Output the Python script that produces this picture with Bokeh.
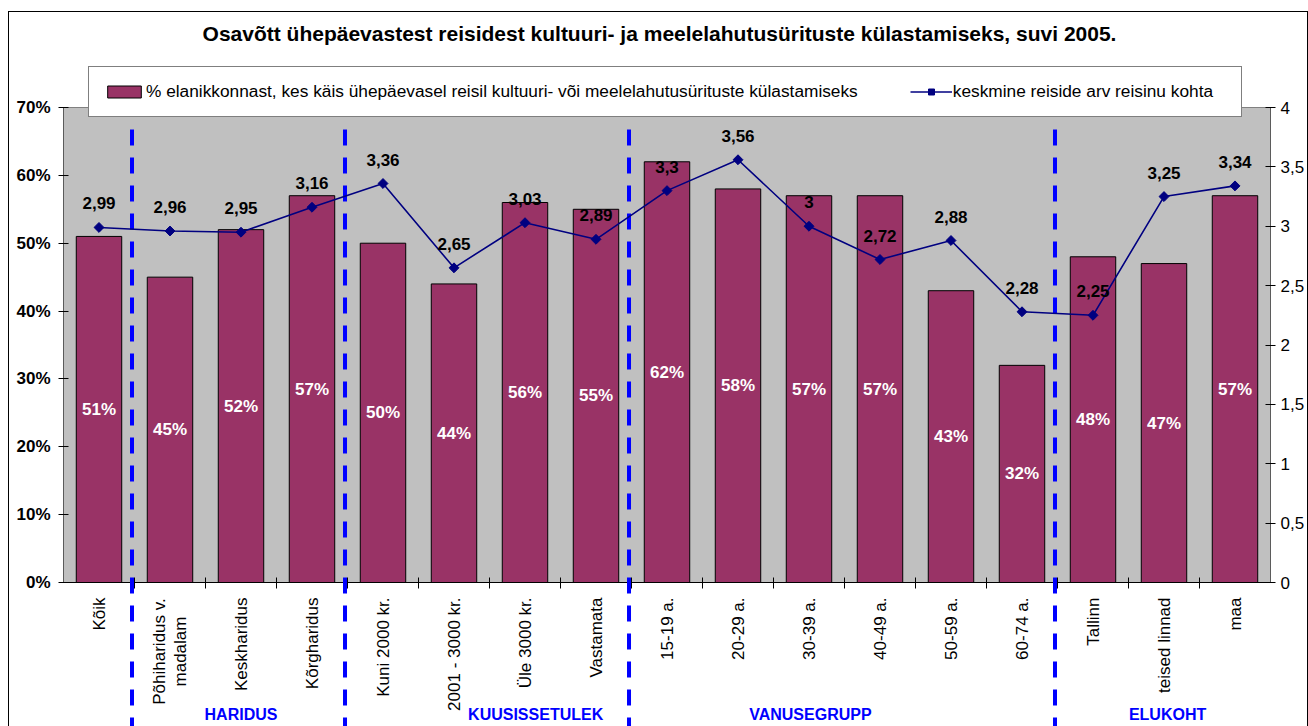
import math
from bokeh.plotting import figure
from bokeh.models import (Range1d, LinearAxis, FixedTicker, NumeralTickFormatter,
                          CustomJSTickFormatter, Legend, LegendItem)
from bokeh.core.properties import value
from bokeh.embed import file_html
from bokeh.resources import INLINE

# ---------------- data ----------------
chart_title = "Osavõtt ühepäevastest reisidest kultuuri- ja meelelahutusürituste külastamiseks, suvi 2005."
categories = ["Kõik", "Põhiharidus v.\nmadalam", "Keskharidus", "Kõrgharidus",
              "Kuni 2000 kr.", "2001 - 3000 kr.", "Üle 3000 kr.", "Vastamata",
              "15-19 a.", "20-29 a.", "30-39 a.", "40-49 a.", "50-59 a.", "60-74 a.",
              "Tallinn", "teised linnad", "maa"]
share_pct = [51, 45, 52, 57, 50, 44, 56, 55, 62, 58, 57, 57, 43, 32, 48, 47, 57]
avg_trips = [2.99, 2.96, 2.95, 3.16, 3.36, 2.65, 3.03, 2.89, 3.3, 3.56, 3, 2.72, 2.88,
             2.28, 2.25, 3.25, 3.34]
groups = ["HARIDUS", "KUUSISSETULEK", "VANUSEGRUPP", "ELUKOHT"]
group_first_index = [1, 4, 8, 14]
left_ticks = [0, 0.1, 0.2, 0.3, 0.4, 0.5, 0.6, 0.7]
right_ticks = [0, 0.5, 1, 1.5, 2, 2.5, 3, 3.5, 4]
bar_legend = "% elanikkonnast, kes käis ühepäevasel reisil kultuuri- või meelelahutusürituste külastamiseks"
line_legend = "keskmine reiside arv reisinu kohta"

# ---------------- layout helpers ----------------
FONT = "Liberation Sans"
W, H = 1308, 726
FRAME_L, FRAME_R = 63, 1270
n = len(categories)
ymax_left, ymax_right = 0.7, 4.0
PPU = 475 / ymax_left            # pixels per unit on left axis
def px(p):
    return p / PPU
y_top = ymax_left + px(107)
y_bot = -px(H - 582)
k = ymax_right / ymax_left

xs = [i + 0.5 for i in range(n)]
shares = [v / 100 for v in share_pct]
trips_left = [v / k for v in avg_trips]

# outer chart border drawn as CSS background lines behind a transparent canvas
border_css = ("linear-gradient(#000,#000) 8px 11px / 1300px 1px no-repeat, "
              "linear-gradient(#000,#000) 8px 11px / 1px 715px no-repeat, "
              "linear-gradient(#000,#000) 1307px 11px / 1px 715px no-repeat, #ffffff")

p = figure(width=W, height=H, output_backend="svg", toolbar_location=None,
           x_range=Range1d(0, n), y_range=Range1d(y_bot, y_top),
           x_axis_location=None, y_axis_location=None,
           min_border_left=FRAME_L, min_border_right=W - FRAME_R,
           min_border_top=0, min_border_bottom=0,
           styles={"background": border_css})
p.extra_y_ranges = {"right": Range1d(y_bot * k, y_top * k)}
p.xgrid.visible = False
p.ygrid.visible = False
p.outline_line_color = None
p.background_fill_alpha = 0
p.border_fill_alpha = 0

# axes
la = LinearAxis(ticker=FixedTicker(ticks=left_ticks), formatter=NumeralTickFormatter(format="0%"))
la.axis_line_color = None
la.major_tick_in = 5
la.major_tick_out = 5
la.minor_tick_line_color = None
la.major_tick_line_color = "black"
la.major_label_standoff = 8
la.major_label_text_font = FONT
la.major_label_text_font_size = "17px"
la.major_label_text_font_style = "bold"
la.major_label_text_color = "black"
p.add_layout(la, "left")

ra = LinearAxis(y_range_name="right", ticker=FixedTicker(ticks=right_ticks),
                formatter=CustomJSTickFormatter(code="return tick.toString().replace('.', ',');"))
ra.axis_line_color = None
ra.major_tick_in = 5
ra.major_tick_out = 5
ra.minor_tick_line_color = None
ra.major_tick_line_color = "black"
ra.major_label_standoff = 5
ra.major_label_text_font = FONT
ra.major_label_text_font_size = "17px"
ra.major_label_text_color = "black"
p.add_layout(ra, "right")

# plot area
p.quad(left=[0], right=[n], bottom=[0], top=[ymax_left], fill_color="#C0C0C0",
       line_color="#808080", line_width=1)

# bars
bars = p.vbar(x=xs, top=shares, width=0.64, fill_color="#993366", line_color="black", line_width=1)

# axis lines
p.segment(x0=[0, n, 0], y0=[0, 0, 0], x1=[0, n, n], y1=[ymax_left, ymax_left, 0],
          line_color="black", line_width=1)
bx = list(range(1, n))
p.segment(x0=bx, y0=[-px(6)] * len(bx), x1=bx, y1=[px(5)] * len(bx), line_color="black", line_width=1)

# group dividers
dx = [g - 0.035 for g in group_first_index]
p.segment(x0=dx, y0=[ymax_left - px(22)] * len(dx), x1=dx, y1=[y_bot] * len(dx),
          line_color="#0000FF", line_width=4, line_dash="16 12")

# line series
line_r = p.line(xs, avg_trips, y_range_name="right", line_color="#000080", line_width=1.6)
mark_r = p.scatter(xs, avg_trips, y_range_name="right", marker="square", angle=math.pi / 4,
                   size=7, fill_color="#000080", line_color="#000080")

# bar value labels
p.text(x=xs, y=[s / 2 for s in shares], text=[f"{v}%" for v in share_pct],
       text_align="center", text_baseline="middle", text_color="white",
       text_font=value(FONT), text_font_size="17px", text_font_style="bold")

# line value labels
p.text(x=xs, y=trips_left, text=[f"{v:g}".replace(".", ",") for v in avg_trips],
       y_offset=-24, text_align="center", text_baseline="middle", text_color="black",
       text_font=value(FONT), text_font_size="17px", text_font_style="bold")

# category labels (rotated)
single = [i for i, c in enumerate(categories) if "\n" not in c]
multi = [i for i, c in enumerate(categories) if "\n" in c]
p.text(x=[xs[i] for i in single], y=[-px(15)] * len(single), text=[categories[i] for i in single],
       angle=math.pi / 2, text_align="right", text_baseline="middle", text_color="black",
       text_font=value(FONT), text_font_size="17px")
p.text(x=[xs[i] for i in multi], y=[-px(69)] * len(multi), text=[categories[i] for i in multi],
       angle=math.pi / 2, text_align="center", text_baseline="middle", text_color="black",
       text_font=value(FONT), text_font_size="17px", text_line_height=1.1)

# group labels
group_label_x = [2.5, 6.65, 10.52, 15.55]
p.text(x=group_label_x, y=[-px(132)] * len(groups), text=groups,
       text_align="center", text_baseline="middle", text_color="#0000FF",
       text_font=value(FONT), text_font_size="16px", text_font_style="bold")

# title
p.text(x=[(659 - FRAME_L) / 71.0], y=[ymax_left + px(107 - 33)], text=[chart_title],
       text_align="center", text_baseline="middle", text_color="black",
       text_font=value(FONT), text_font_size="21px", text_font_style="bold")

# legend
legend = Legend(items=[LegendItem(label=bar_legend, renderers=[bars]),
                       LegendItem(label=line_legend, renderers=[line_r, mark_r])],
                orientation="horizontal", location=(88 - FRAME_L, H - 117),
                glyph_width=42, glyph_height=15, label_standoff=1, spacing=52,
                padding=14, label_height=17, label_width=274, margin=0,
                border_line_color="black", border_line_width=1,
                background_fill_color="white", background_fill_alpha=1,
                label_text_font=FONT, label_text_font_size="17.3px",
                label_text_baseline="middle", label_text_color="black")
p.add_layout(legend, "center")

open("out.html", "w").write(file_html(p, INLINE))
